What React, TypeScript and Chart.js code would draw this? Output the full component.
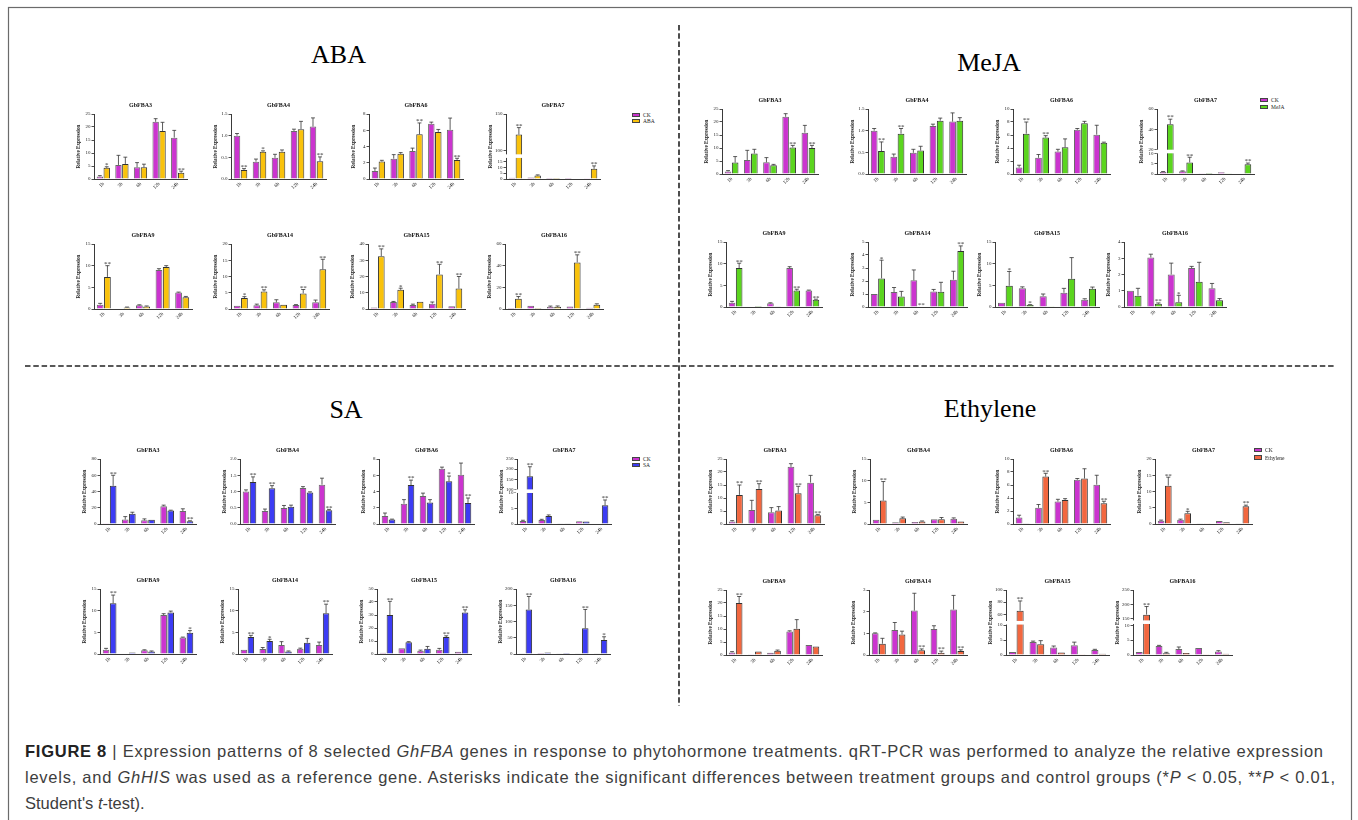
import React, { useEffect, useRef } from 'react';
import { Chart, registerables, LinearScale } from 'chart.js';

Chart.register(...registerables);

const FONT = '"Liberation Serif", "Times New Roman", serif';
const CAP_FONT = '"Liberation Sans", Arial, sans-serif';

// ---------------- data ----------------
const TIMES = ['1h', '3h', '6h', '12h', '24h'];
const GENES = ['GbFBA3', 'GbFBA4', 'GbFBA6', 'GbFBA7', 'GbFBA9', 'GbFBA14', 'GbFBA15', 'GbFBA16'];

// control (CK), shared by every treatment panel; one row per gene
const CK_MEAN = [
  [1.0, 5.4, 4.5, 22.0, 15.9],
  [1.0, 0.4, 0.49, 1.11, 1.21],
  [1.0, 2.5, 3.45, 6.8, 6.05],
  [1.0, 1.3, 0.1, 0.9, 0.2],
  [1.0, 0.1, 0.85, 9.0, 3.8],
  [1.0, 1.15, 2.05, 1.2, 2.1],
  [1.0, 4.35, 2.5, 3.3, 1.7],
  [1.0, 3.05, 2.0, 2.4, 1.15],
];
const CK_SD = [
  [0.3, 3.7, 1.8, 1.2, 2.8],
  [0.05, 0.06, 0.08, 0.04, 0.2],
  [0.35, 0.5, 0.35, 0.2, 1.45],
  [0.2, 0.2, 0.02, 0.1, 0.05],
  [0.3, 0.02, 0.12, 0.3, 0.1],
  [0.02, 0.35, 0.8, 0.15, 0.65],
  [0.02, 0.3, 0.5, 1.0, 0.2],
  [0.02, 0.2, 0.7, 0.1, 0.3],
];

const ABA_MEAN = [
  [4.3, 5.8, 4.5, 18.5, 2.4],
  [0.21, 0.63, 0.63, 1.15, 0.41],
  [2.15, 3.1, 5.5, 5.8, 2.35],
  [122, 3.0, 0.05, 0.5, 8.7],
  [7.4, 0.35, 0.6, 9.7, 2.7],
  [3.4, 5.4, 1.3, 4.8, 12.2],
  [32.5, 11.8, 4.5, 21.3, 12.6],
  [9.5, 1.0, 2.0, 43, 4.0],
];
const ABA_SD = [
  [0.4, 2.6, 1.2, 3.3, 0.6],
  [0.03, 0.02, 0.04, 0.18, 0.1],
  [0.15, 0.15, 1.4, 0.3, 0.2],
  [9.5, 0.5, 0.02, 0.1, 2.5],
  [2.6, 0.1, 0.1, 0.3, 0.2],
  [0.4, 0.5, 0.05, 1.2, 3.1],
  [4.5, 1.0, 0.2, 6.2, 7.4],
  [2.0, 0.1, 0.8, 7, 0.8],
];
const ABA_SIG = [
  ['*', '', '', '', '**'],
  ['**', '*', '', '', '**'],
  ['', '', '**', '', '**'],
  ['**', '', '', '', '**'],
  ['**', '', '', '', ''],
  ['*', '**', '', '**', '**'],
  ['**', '*', '', '**', '**'],
  ['**', '', '', '**', ''],
];
const ABA_YMAX = [25, 1.5, 8, 150, 15, 20, 40, 60];
const ABA_STEP = [5, 0.5, 2, 0, 5, 5, 10, 20];
const ABA_FBA7_TICKS = [0, 5, 10, 15, 100, 150];

const MEJA_MEAN = [
  [4.4, 7.9, 3.4, 10.2, 10.0],
  [0.53, 0.93, 0.54, 1.23, 1.23],
  [6.2, 5.6, 4.1, 7.8, 4.8],
  [45, 5.6, 0.05, 0.1, 4.7],
  [9.0, 0.25, 0.15, 3.8, 1.7],
  [2.2, 0.8, 0.03, 1.17, 4.3],
  [4.9, 0.45, 0.05, 6.5, 4.2],
  [0.7, 0.2, 0.3, 1.55, 0.42],
];
const MEJA_SD = [
  [2.3, 1.6, 0.3, 0.8, 1.0],
  [0.21, 0.12, 0.1, 0.06, 0.07],
  [1.8, 0.3, 1.3, 0.3, 0.1],
  [5, 2.5, 0.01, 0.02, 0.6],
  [1.1, 0.05, 0.02, 0.3, 0.1],
  [1.4, 0.4, 0.01, 0.73, 0.4],
  [3.3, 0.1, 0.01, 4.9, 0.4],
  [0.45, 0.05, 0.42, 1.2, 0.1],
];
const MEJA_SIG = [
  ['', '', '', '**', '**'],
  ['**', '**', '', '', ''],
  ['**', '**', '', '', ''],
  ['**', '**', '', '', '**'],
  ['**', '', '', '**', '**'],
  ['*', '', '**', '', '**'],
  ['*', '*', '', '', ''],
  ['', '**', '*', '', ''],
];
const MEJA_YMAX = [25, 1.5, 10, 60, 15, 5, 15, 4];
const MEJA_STEP = [5, 0.5, 2, 0, 5, 1, 5, 1];
const MEJA_FBA7_TICKS = [0, 5, 10, 20, 40, 60];

const SA_MEAN = [
  [47, 12.5, 5.3, 16.5, 3.5],
  [1.29, 1.1, 0.53, 0.97, 0.42],
  [0.55, 4.8, 2.65, 5.25, 2.6],
  [165, 2.6, 0.1, 0.8, 6.0],
  [11.7, 0.35, 0.55, 9.6, 4.9],
  [3.9, 3.0, 0.6, 2.6, 9.4],
  [30, 9.0, 4.0, 13, 32],
  [137, 5.0, 3.0, 79, 43],
];
const SA_SD = [
  [13, 2, 0.4, 0.5, 0.5],
  [0.16, 0.08, 0.05, 0.02, 0.03],
  [0.05, 0.6, 0.35, 0.65, 0.6],
  [47, 0.3, 0.02, 0.1, 1.7],
  [1.9, 0.05, 0.15, 0.3, 0.5],
  [0.4, 0.4, 0.1, 1.0, 2.1],
  [10.5, 0.5, 1.8, 1.0, 2.0],
  [40, 1.0, 0.5, 58, 10],
];
const SA_SIG = [
  ['**', '', '', '', '**'],
  ['**', '**', '', '', '**'],
  ['', '**', '', '*', '**'],
  ['**', '', '', '', '**'],
  ['**', '', '', '', '*'],
  ['**', '*', '', '', '**'],
  ['**', '', '', '**', '**'],
  ['**', '', '', '**', '*'],
];
const SA_YMAX = [80, 2.0, 8, 250, 15, 15, 50, 200];
const SA_STEP = [20, 0.5, 2, 0, 5, 5, 10, 50];
const SA_FBA7_TICKS = [0, 5, 10, 100, 150, 200, 250];

const ETH_MEAN = [
  [11.2, 13.5, 5.2, 11.8, 3.4],
  [5.4, 1.3, 0.6, 1.1, 0.55],
  [0.05, 7.3, 3.7, 7.0, 3.2],
  [11.8, 3.3, 0.05, 0.55, 5.5],
  [20, 1.3, 1.6, 10.1, 3.3],
  [0.52, 0.95, 0.22, 0.1, 0.18],
  [66, 3.6, 0.8, 0.05, 0.4],
  [165, 0.6, 0.7, 0.05, 0.4],
];
const ETH_SD = [
  [3.8, 2.0, 1.5, 2.7, 0.3],
  [4.4, 0.3, 0.1, 0.4, 0.05],
  [0.01, 0.5, 0.2, 1.5, 0.3],
  [2.6, 0.6, 0.01, 0.05, 0.3],
  [2.5, 0.05, 0.3, 3.5, 0.05],
  [0.25, 0.15, 0.06, 0.08, 0.06],
  [16, 1.2, 0.1, 0.01, 0.1],
  [28, 0.3, 0.1, 0.01, 0.1],
];
const ETH_SIG = [
  ['**', '**', '', '**', '**'],
  ['**', '', '', '', ''],
  ['', '**', '', '', '**'],
  ['**', '*', '', '', '**'],
  ['**', '', '', '', ''],
  ['', '', '**', '**', '**'],
  ['**', '', '', '', ''],
  ['**', '', '', '', ''],
];
const ETH_YMAX = [25, 15, 10, 20, 25, 3, 100, 250];
const ETH_STEP = [5, 5, 2, 5, 5, 1, 0, 0];
const ETH_FBA15_TICKS = [0, 5, 10, 60, 80, 100];
const ETH_FBA16_TICKS = [0, 5, 10, 150, 200, 250];

// ---------------- styles ----------------
const CK_COLOR = '#CB34CF';
const AXIS = '#3a3a3a';

type Brk = { lowMax: number; lowFrac: number; highMin: number; highFrac: number };

// broken (two-segment) linear axis
function brokenScale(id: string, b: Brk) {
  class BrokenScale extends LinearScale {
    static id = id;
    static defaults = LinearScale.defaults;
    getPixelForValue(value: number) {
      const h = this.bottom - this.top;
      const max = this.max;
      let f: number;
      if (value <= b.lowMax) f = (value / b.lowMax) * b.lowFrac;
      else if (value >= b.highMin) f = b.highFrac + ((value - b.highMin) / (max - b.highMin)) * (1 - b.highFrac);
      else f = b.lowFrac + ((value - b.lowMax) / (b.highMin - b.lowMax)) * (b.highFrac - b.lowFrac);
      return this.bottom - f * h;
    }
    getValueForPixel(pixel: number) {
      const h = this.bottom - this.top;
      const f = (this.bottom - pixel) / h;
      if (f <= b.lowFrac) return (f / b.lowFrac) * b.lowMax;
      if (f >= b.highFrac) return b.highMin + ((f - b.highFrac) / (1 - b.highFrac)) * (this.max - b.highMin);
      return b.lowMax + ((f - b.lowFrac) / (b.highFrac - b.lowFrac)) * (b.highMin - b.lowMax);
    }
  }
  Chart.register(BrokenScale as any);
  return { id, brk: b };
}

const BRK_ABA7 = brokenScale('brkABA7', { lowMax: 15, lowFrac: 0.27, highMin: 100, highFrac: 0.434 });
const BRK_MEJA7 = brokenScale('brkMEJA7', { lowMax: 10, lowFrac: 0.318, highMin: 20, highFrac: 0.374 });
const BRK_SA7 = brokenScale('brkSA7', { lowMax: 10, lowFrac: 0.48, highMin: 100, highFrac: 0.53 });
const BRK_ETH15 = brokenScale('brkETH15', { lowMax: 10, lowFrac: 0.46, highMin: 50, highFrac: 0.532 });
const BRK_ETH16 = brokenScale('brkETH16', { lowMax: 10, lowFrac: 0.456, highMin: 150, highFrac: 0.554 });

type Panel = {
  name: string;
  color: string;
  mean: number[][];
  sd: number[][];
  sig: string[][];
  ymax: number[];
  step: number[];
  broken: Record<number, { ticks: number[]; scale: { id: string; brk: Brk } }>;
  rows: number[][];
  xs: number[][];
  legend: { x: number; ys: number[] };
  head: { x: number; y: number };
};

const PANELS: Panel[] = [
  {
    name: 'ABA', color: '#F9C20C', mean: ABA_MEAN, sd: ABA_SD, sig: ABA_SIG, ymax: ABA_YMAX, step: ABA_STEP,
    broken: { 3: { ticks: ABA_FBA7_TICKS, scale: BRK_ABA7 } },
    rows: [[114, 179.3], [244, 309]],
    xs: [[93.7, 186.7], [231.1, 325.6], [369.3, 463.4], [506.3, 600], [94.1, 191.7], [230.7, 328.3], [367.7, 464.2], [505.1, 602.7]],
    legend: { x: 632, ys: [115, 121] }, head: { x: 338.5, y: 63 },
  },
  {
    name: 'MeJA', color: '#5BD51E', mean: MEJA_MEAN, sd: MEJA_SD, sig: MEJA_SIG, ymax: MEJA_YMAX, step: MEJA_STEP,
    broken: { 3: { ticks: MEJA_FBA7_TICKS, scale: BRK_MEJA7 } },
    rows: [[108.7, 173.7], [241.7, 306.7]],
    xs: [[722.4, 818.5], [868, 966], [1013.4, 1110.3], [1156.6, 1253.5], [726.4, 822.5], [868, 966.8], [995.3, 1099.3], [1124.2, 1225.8]],
    legend: { x: 1260, ys: [100, 107] }, head: { x: 989, y: 71 },
  },
  {
    name: 'SA', color: '#3C3CF4', mean: SA_MEAN, sd: SA_SD, sig: SA_SIG, ymax: SA_YMAX, step: SA_STEP,
    broken: { 3: { ticks: SA_FBA7_TICKS, scale: BRK_SA7 } },
    rows: [[459, 524], [589, 654]],
    xs: [[100.3, 196], [240, 334.5], [378.9, 473.4], [517.4, 611.2], [100.3, 196], [238, 331.8], [376.6, 470.8], [515.5, 609.3]],
    legend: { x: 632, ys: [459, 465] }, head: { x: 346, y: 418 },
  },
  {
    name: 'Ethylene', color: '#F2673F', mean: ETH_MEAN, sd: ETH_SD, sig: ETH_SIG, ymax: ETH_YMAX, step: ETH_STEP,
    broken: { 6: { ticks: ETH_FBA15_TICKS, scale: BRK_ETH15 }, 7: { ticks: ETH_FBA16_TICKS, scale: BRK_ETH16 } },
    rows: [[459, 524], [590, 655]],
    xs: [[726.4, 824.4], [869.9, 966.8], [1013.4, 1110.3], [1154.6, 1251.5], [726.4, 822.5], [868.7, 966.8], [1006.3, 1109.1], [1132.9, 1231.7]],
    legend: { x: 1254, ys: [450, 457.5] }, head: { x: 990, y: 417 },
  },
];

const PAD_L = 34;
const PAD_T = 16;
const PAD_R = 6;
const PAD_B = 16;

function MiniChart({ panel, gi }: { panel: Panel; gi: number }) {
  const ref = useRef<HTMLCanvasElement>(null);
  const [ax, ex] = panel.xs[gi];
  const [pt, pb] = panel.rows[gi < 4 ? 0 : 1];
  const plotW = ex - ax;
  const plotH = pb - pt;
  const w = Math.round(PAD_L + plotW + PAD_R);
  const h = Math.round(PAD_T + plotH + PAD_B);
  const left = Math.round(ax) - PAD_L;
  const top = Math.round(pt) - PAD_T;
  const broken = panel.broken[gi];

  useEffect(() => {
    const step = panel.step[gi];
    const yScale: any = {
      type: broken ? broken.scale.id : 'linear',
      min: 0,
      max: panel.ymax[gi],
      border: { display: true, color: AXIS, width: 1 },
      grid: { display: true, drawOnChartArea: false, drawTicks: true, tickLength: 2.5, color: AXIS, lineWidth: 0.9 },
      ticks: {
        autoSkip: false,
        font: { family: FONT, size: 5 },
        color: '#222',
        padding: 1,
        stepSize: step || undefined,
        callback: (v: any) => (step && step < 1 ? Number(v).toFixed(1) : String(Math.round(Number(v) * 100) / 100)),
      },
      title: {
        display: true,
        text: 'Relative Expression',
        font: { family: FONT, size: 5.2, weight: 'bold' },
        color: '#222',
        padding: { top: 15.5, bottom: 0 },
      },
      afterFit: (s: any) => { s.width = PAD_L; },
    };
    if (broken) {
      yScale.afterBuildTicks = (s: any) => { s.ticks = broken.ticks.map((v) => ({ value: v })); };
    }

    const decor = {
      id: 'decor',
      afterDatasetsDraw(chart: any) {
        const { ctx, chartArea } = chart;
        const ys = chart.scales.y;
        ctx.save();
        if (broken) {
          const y1 = ys.getPixelForValue(broken.scale.brk.lowMax);
          const y2 = ys.getPixelForValue(broken.scale.brk.highMin);
          const yc = (y1 + y2) / 2;
          ctx.fillStyle = '#ffffff';
          ctx.fillRect(chartArea.left - 1.5, yc - 1.8, chartArea.right - chartArea.left + 1.5, 3.6);
        }
        chart.data.datasets.forEach((ds: any, i: number) => {
          const meta = chart.getDatasetMeta(i);
          meta.data.forEach((el: any, j: number) => {
            const v = ds.data[j];
            const sd = ds.sd[j];
            const yTop = ys.getPixelForValue(v + sd);
            ctx.strokeStyle = '#333';
            ctx.lineWidth = 0.8;
            if (el.y - yTop > 0.4) {
              const cw = el.width * 0.3;
              ctx.beginPath();
              ctx.moveTo(el.x, el.y);
              ctx.lineTo(el.x, yTop);
              ctx.moveTo(el.x - cw, yTop);
              ctx.lineTo(el.x + cw, yTop);
              ctx.stroke();
            }
            if (ds.sig[j]) {
              ctx.fillStyle = '#333';
              ctx.font = `7px ${FONT}`;
              ctx.textAlign = 'center';
              ctx.textBaseline = 'alphabetic';
              ctx.fillText(ds.sig[j], el.x, Math.min(yTop, el.y) + 0.3);
            }
          });
        });
        ctx.fillStyle = '#111';
        ctx.font = `bold 6px ${FONT}`;
        ctx.textAlign = 'center';
        ctx.textBaseline = 'middle';
        ctx.fillText(GENES[gi], (chartArea.left + chartArea.right) / 2, chartArea.top - 9);
        ctx.restore();
      },
    };

    const chart = new Chart(ref.current as HTMLCanvasElement, {
      type: 'bar',
      data: {
        labels: TIMES,
        datasets: [
          {
            label: 'CK',
            data: CK_MEAN[gi],
            sd: CK_SD[gi],
            sig: ['', '', '', '', ''],
            backgroundColor: CK_COLOR,
            borderColor: '#6a6a6a',
            borderWidth: 1,
            categoryPercentage: 0.74,
            barPercentage: 0.93,
          } as any,
          {
            label: panel.name,
            data: panel.mean[gi],
            sd: panel.sd[gi],
            sig: panel.sig[gi],
            backgroundColor: panel.color,
            borderColor: '#333',
            borderWidth: 1,
            categoryPercentage: 0.74,
            barPercentage: 0.93,
          } as any,
        ],
      },
      options: {
        animation: false,
        responsive: false,
        events: [],
        layout: { padding: { top: PAD_T, right: PAD_R, left: 0, bottom: 0 } },
        plugins: { legend: { display: false }, tooltip: { enabled: false }, title: { display: false } },
        scales: {
          x: {
            type: 'category',
            border: { display: true, color: AXIS, width: 1 },
            grid: { display: false, drawTicks: false, tickLength: 0 },
            ticks: { font: { family: FONT, size: 5 }, color: '#222', minRotation: 45, maxRotation: 45, padding: 2, autoSkip: false },
            afterFit: (s: any) => { s.height = PAD_B; },
          } as any,
          y: yScale,
        },
      },
      plugins: [decor],
    });
    return () => chart.destroy();
  }, []);

  return (
    <canvas
      ref={ref}
      width={w}
      height={h}
      style={{ position: 'absolute', left, top, width: w, height: h }}
    />
  );
}

function Legend({ panel }: { panel: Panel }) {
  const items: [string, string, number][] = [
    ['CK', CK_COLOR, panel.legend.ys[0]],
    [panel.name, panel.color, panel.legend.ys[1]],
  ];
  return (
    <>
      {items.map(([lab, col, y]) => (
        <React.Fragment key={lab}>
          <div
            style={{
              position: 'absolute', left: panel.legend.x, top: y - 2.3, width: 8, height: 4.6,
              background: col, border: '0.8px solid #444', boxSizing: 'border-box',
            }}
          />
          <div
            style={{
              position: 'absolute', left: panel.legend.x + 11, top: y - 4, fontFamily: FONT, fontSize: 5.5,
              lineHeight: '8px', color: '#222', whiteSpace: 'nowrap',
            }}
          >
            {lab}
          </div>
        </React.Fragment>
      ))}
    </>
  );
}

export default function App() {
  return (
    <div style={{ position: 'fixed', left: 0, top: 0, width: 1358, height: 820, overflow: 'hidden', background: '#fff' }}>
      <svg width={1358} height={820} style={{ position: 'absolute', left: 0, top: 0 }}>
        <rect x={8.5} y={7.5} width={1343} height={830} fill="none" stroke="#6b6b6b" strokeWidth={1.2} />
        <line x1={679} y1={25} x2={679} y2={706} stroke="#222" strokeWidth={1.6} strokeDasharray="5.5 2.8" />
        <line x1={25} y1={366} x2={1334} y2={366} stroke="#222" strokeWidth={1.6} strokeDasharray="5.5 2.8" />
        {PANELS.map((p) => (
          <text key={p.name} x={p.head.x} y={p.head.y} textAnchor="middle" fontFamily={FONT} fontSize={26} fill="#000">
            {p.name}
          </text>
        ))}
        <text x={25} y={757} textLength={1298} lengthAdjust="spacing" fontFamily={CAP_FONT} fontSize={16.5} fill="#3d3d3d" style={{ whiteSpace: 'pre' }}>
          <tspan fontWeight="bold" fill="#222">FIGURE 8</tspan>
          <tspan>{' | Expression patterns of 8 selected '}</tspan>
          <tspan fontStyle="italic">GhFBA</tspan>
          <tspan>{' genes in response to phytohormone treatments. qRT-PCR was performed to analyze the relative expression'}</tspan>
        </text>
        <text x={25} y={783} textLength={1310} lengthAdjust="spacing" fontFamily={CAP_FONT} fontSize={16.5} fill="#3d3d3d" style={{ whiteSpace: 'pre' }}>
          <tspan>{'levels, and '}</tspan>
          <tspan fontStyle="italic">GhHIS</tspan>
          <tspan>{' was used as a reference gene. Asterisks indicate the significant differences between treatment groups and control groups (*'}</tspan>
          <tspan fontStyle="italic">P</tspan>
          <tspan>{' < 0.05, **'}</tspan>
          <tspan fontStyle="italic">P</tspan>
          <tspan>{' < 0.01,'}</tspan>
        </text>
        <text x={25} y={809} fontFamily={CAP_FONT} fontSize={16.5} fill="#3d3d3d" style={{ whiteSpace: 'pre' }}>
          <tspan>{"Student's "}</tspan>
          <tspan fontStyle="italic">t</tspan>
          <tspan>{'-test).'}</tspan>
        </text>
      </svg>
      {PANELS.map((p) => GENES.map((g, gi) => <MiniChart key={p.name + g} panel={p} gi={gi} />))}
      {PANELS.map((p) => <Legend key={'lg' + p.name} panel={p} />)}
    </div>
  );
}
